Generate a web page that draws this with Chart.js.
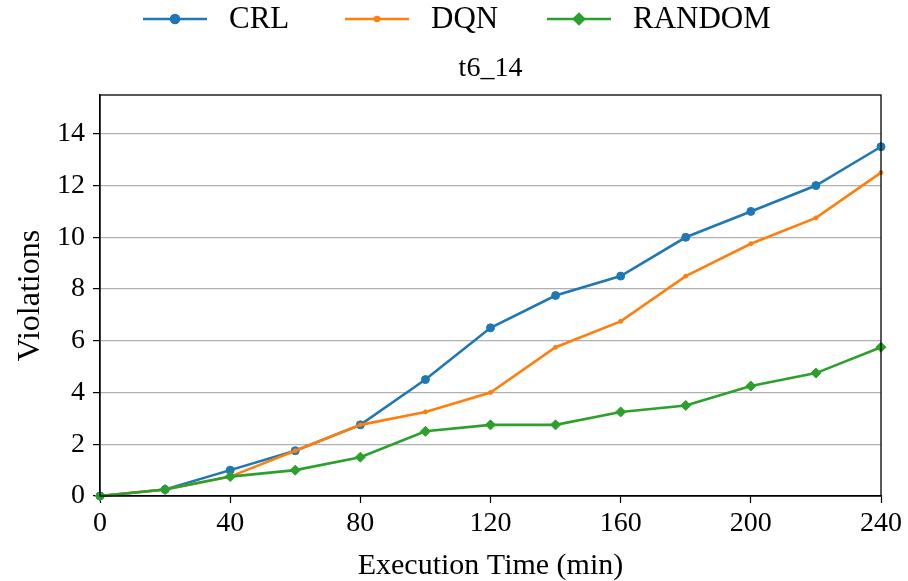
<!DOCTYPE html>
<html>
<head>
<meta charset="utf-8">
<script src="https://cdn.jsdelivr.net/npm/chart.js@4"></script>
<style>
  html, body { margin: 0; padding: 0; background: #fff; }
  #wrap { width: 908px; height: 581px; }
</style>
</head>
<body>
<div id="wrap"><canvas id="lineGraph" width="908" height="581"></canvas></div>
<script>
const minutes = [0, 20, 40, 60, 80, 100, 120, 140, 160, 180, 200, 220, 240];
const crl = [0, 0.25, 1, 1.75, 2.75, 4.5, 6.5, 7.75, 8.5, 10, 11, 12, 13.5];
const dqn = [0, 0.25, 0.75, 1.75, 2.75, 3.25, 4, 5.75, 6.75, 8.5, 9.75, 10.75, 12.5];
const random = [0, 0.25, 0.75, 1, 1.5, 2.5, 2.75, 2.75, 3.25, 3.5, 4.25, 4.75, 5.75];
const yTicks = [0, 2, 4, 6, 8, 10, 12, 14];
const xTicks = [0, 40, 80, 120, 160, 200, 240];
const chartTitle = 't6_14';

const serif = 'Liberation Serif, Times New Roman, serif';

function series(label, values, color, style, radius, order) {
  return {
    label: label,
    data: minutes.map((m, i) => ({ x: m, y: values[i] })),
    borderColor: color,
    backgroundColor: color,
    borderWidth: 2.6,
    pointStyle: style,
    pointRadius: radius,
    pointBorderWidth: 1,
    pointHoverRadius: radius,
    clip: false,
    order: order,
  };
}

// box around the plot, title centred over the plot area
const frame = {
  id: 'frame',
  afterDatasetsDraw(chart) {
    const a = chart.chartArea, c = chart.ctx;
    c.save();
    c.strokeStyle = '#000';
    c.lineWidth = 1.3;
    c.strokeRect(a.left, a.top, a.right - a.left, a.bottom - a.top);
    c.fillStyle = '#000';
    c.font = '28px ' + serif;
    c.textAlign = 'center';
    c.textBaseline = 'middle';
    c.fillText(chartTitle, (a.left + a.right) / 2, 69);
    c.restore();
  }
};

// matplotlib-like legend across the top: line + marker + name
const topLegend = {
  id: 'topLegend',
  afterDraw(chart) {
    const c = chart.ctx;
    const slots = [143, 345, 547];
    const y = 19;
    c.save();
    chart.data.datasets.forEach((ds, i) => {
      const x0 = slots[i], x1 = x0 + 64;
      c.strokeStyle = ds.borderColor;
      c.lineWidth = ds.borderWidth;
      c.beginPath(); c.moveTo(x0, y); c.lineTo(x1, y); c.stroke();
      Chart.helpers.drawPoint(c, { pointStyle: ds.pointStyle, radius: ds.pointRadius, borderWidth: 1 }, (x0 + x1) / 2, y);
      c.fillStyle = ds.borderColor;
      c.fill();
      c.fillStyle = '#000';
      c.font = '31px ' + serif;
      c.textBaseline = 'middle';
      c.fillText(ds.label, x1 + 22, y + 1);
    });
    c.restore();
  }
};

new Chart(document.getElementById('lineGraph').getContext('2d'), {
  type: 'line',
  data: {
    datasets: [
      series('CRL', crl, '#1f77b4', 'circle', 4, 3),
      series('DQN', dqn, '#ff7f0e', 'circle', 2, 2),
      series('RANDOM', random, '#2ca02c', 'rectRot', 5, 1),
    ]
  },
  options: {
    responsive: false,
    animation: false,
    layout: { padding: { left: 0, right: 27, top: 95, bottom: 0 } },
    plugins: {
      legend: { display: false },
      tooltip: { enabled: false },
    },
    scales: {
      x: {
        type: 'linear',
        min: 0,
        max: 240,
        afterBuildTicks: s => { s.ticks = xTicks.map(v => ({ value: v })); },
        afterFit: s => { s.height = 85; },
        grid: { drawOnChartArea: false, tickLength: 7, tickColor: '#000', tickWidth: 1.2 },
        border: { color: '#000', width: 1.3 },
        ticks: { color: '#000', font: { family: serif, size: 28 }, padding: 4, maxRotation: 0 },
        title: { display: true, text: 'Execution Time (min)', color: '#000', font: { family: serif, size: 30 }, padding: { top: 0, bottom: -3 } },
      },
      y: {
        min: 0,
        max: 15.5,
        afterBuildTicks: s => { s.ticks = yTicks.map(v => ({ value: v })); },
        afterFit: s => { s.width = 100; },
        grid: { color: '#b0b0b0', lineWidth: 1.2, tickLength: 7, tickColor: '#000', tickWidth: 1.2 },
        border: { color: '#000', width: 1.3 },
        ticks: { color: '#000', font: { family: serif, size: 28 }, padding: 8 },
        title: { display: true, text: 'Violations', color: '#000', font: { family: serif, size: 32 }, padding: { top: 11, bottom: 0 } },
      }
    }
  },
  plugins: [frame, topLegend]
});
</script>
</body>
</html>
